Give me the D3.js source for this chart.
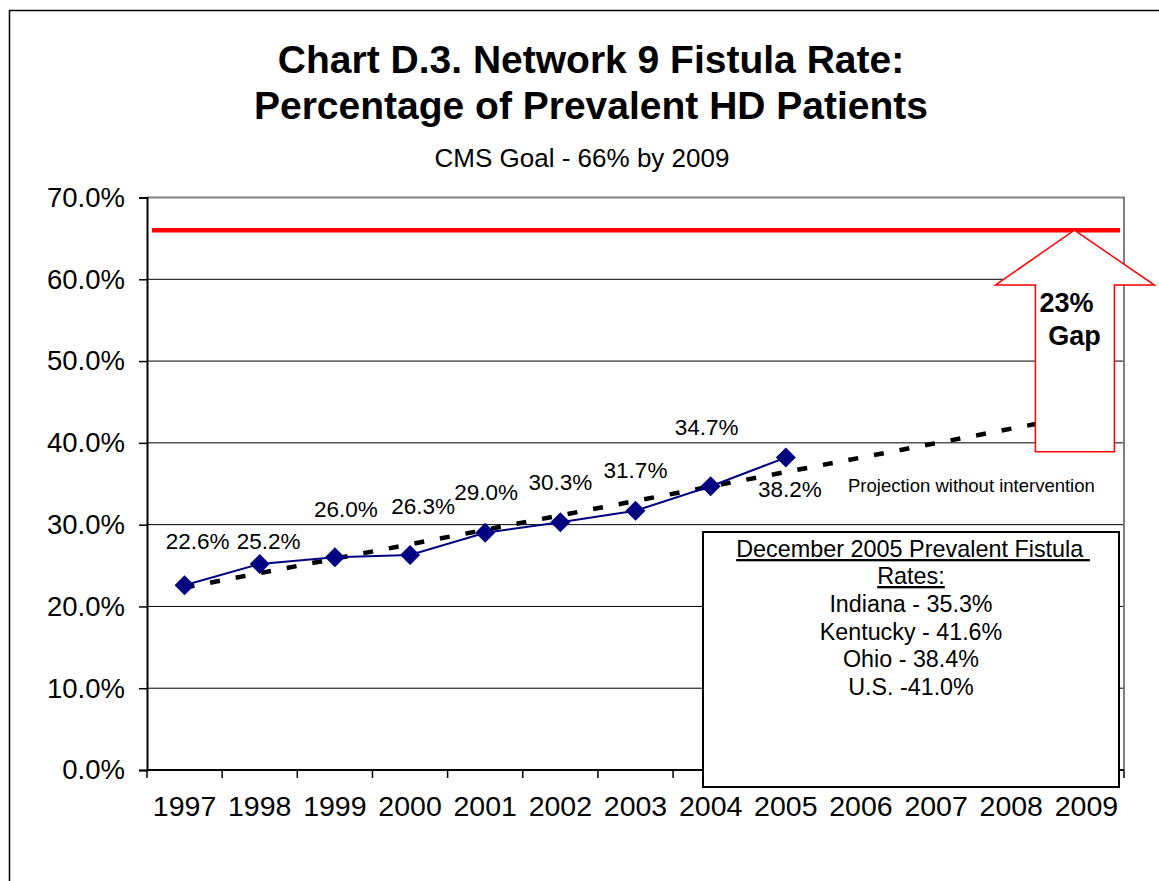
<!DOCTYPE html>
<html>
<head>
<meta charset="utf-8">
<script src="https://cdn.jsdelivr.net/npm/d3@7"></script>
<style>
  body { margin: 0; background: #fff; }
  svg { display: block; font-family: "Liberation Sans", Arial, sans-serif; }
</style>
</head>
<body>
<div id="chart"></div>
<script>
// chart values
var years = ["1997", "1998", "1999", "2000", "2001", "2002", "2003", "2004", "2005", "2006", "2007", "2008", "2009"];
var rateYears = ["1997", "1998", "1999", "2000", "2001", "2002", "2003", "2004", "2005"];
var rates = [22.6, 25.2, 26.0, 26.3, 29.0, 30.3, 31.7, 34.7, 38.2];
var trendYears = ["1997", "2009"];
var trendValues = [22.3, 43.5];
var goalValue = 66;
var yTicks = [0, 10, 20, 30, 40, 50, 60, 70];
var stateLines = ["Indiana - 35.3%", "Kentucky - 41.6%", "Ohio - 38.4%", "U.S. -41.0%"];

// label nudges (Excel labels were dragged by hand)
var labelNudge = [[13, -36], [9, -15], [11, -40], [13, -41], [1, -33], [0, -32], [0, -33], [-4, -51], [4, 39]];

var width = 1159, height = 881;
var margin = {top: 197.5, right: 35, bottom: 111, left: 147};

var svg = d3.select("#chart").append("svg")
    .attr("width", width)
    .attr("height", height);

// outer frame, runs off the page at right and bottom
svg.append("rect")
    .attr("x", 9.5).attr("y", 10.5)
    .attr("width", 1200).attr("height", 900)
    .attr("fill", "#fff")
    .attr("stroke", "#000")
    .attr("stroke-width", 1.5);

var x = d3.scaleBand()
    .domain(years)
    .range([margin.left, width - margin.right]);

var y = d3.scaleLinear()
    .domain([0, 70])
    .range([height - margin.bottom, margin.top]);

function cx(d) { return x(d) + x.bandwidth() / 2; }

// titles
svg.append("text")
    .attr("x", 591).attr("y", 73)
    .attr("text-anchor", "middle")
    .attr("font-size", 39).attr("font-weight", "bold")
    .text("Chart D.3. Network 9 Fistula Rate:");
svg.append("text")
    .attr("x", 591).attr("y", 119)
    .attr("text-anchor", "middle")
    .attr("font-size", 39).attr("font-weight", "bold")
    .text("Percentage of Prevalent HD Patients");
svg.append("text")
    .attr("x", 582).attr("y", 167)
    .attr("text-anchor", "middle")
    .attr("font-size", 26)
    .text("CMS Goal - 66% by 2009");

// gridlines
svg.append("g")
    .selectAll("line")
    .data(yTicks.filter(function (d) { return d > 0 && d < 70; }))
    .enter().append("line")
    .attr("x1", margin.left).attr("x2", width - margin.right)
    .attr("y1", function (d) { return y(d); })
    .attr("y2", function (d) { return y(d); })
    .attr("stroke", "#000")
    .attr("stroke-width", 1);

// plot border top/right in gray
svg.append("path")
    .attr("d", "M" + margin.left + "," + y(70) + "H" + (width - margin.right) + "V" + y(0))
    .attr("fill", "none")
    .attr("stroke", "#808080")
    .attr("stroke-width", 2);

// y axis
var yAxis = d3.axisLeft(y)
    .tickValues(yTicks)
    .tickSize(8)
    .tickPadding(14)
    .tickFormat(function (d) { return d.toFixed(1) + "%"; });

var gy = svg.append("g")
    .attr("transform", "translate(" + margin.left + ",0)")
    .call(yAxis);
gy.select(".domain").attr("stroke", "#000").attr("stroke-width", 2);
gy.selectAll(".tick line").attr("stroke", "#000").attr("stroke-width", 1.5);
gy.selectAll(".tick text")
    .attr("font-family", "Liberation Sans, Arial, sans-serif")
    .attr("font-size", 27.5)
    .attr("fill", "#000");

// x axis with ticks between categories
var gx = svg.append("g")
    .attr("transform", "translate(0," + y(0) + ")");
gx.append("line")
    .attr("x1", margin.left).attr("x2", width - margin.right)
    .attr("stroke", "#000").attr("stroke-width", 2);
gx.selectAll(".sep")
    .data(years.concat(["end"]))
    .enter().append("line")
    .attr("class", "sep")
    .attr("x1", function (d, i) { return i < years.length ? x(d) : x.range()[1]; })
    .attr("x2", function (d, i) { return i < years.length ? x(d) : x.range()[1]; })
    .attr("y1", 0).attr("y2", 8)
    .attr("stroke", "#000").attr("stroke-width", 1.5);
gx.selectAll(".lab")
    .data(years)
    .enter().append("text")
    .attr("class", "lab")
    .attr("x", cx)
    .attr("y", 46)
    .attr("text-anchor", "middle")
    .attr("font-size", 28.5)
    .text(function (d) { return d; });

// goal line
svg.append("line")
    .attr("x1", x.range()[0] + 5).attr("x2", x.range()[1] - 4)
    .attr("y1", y(goalValue)).attr("y2", y(goalValue))
    .attr("stroke", "#ff0000")
    .attr("stroke-width", 4.5);

// projection (dashed)
var trend = trendYears.map(function (d, i) { return {year: d, value: trendValues[i]}; });
svg.append("path")
    .datum(trend)
    .attr("fill", "none")
    .attr("stroke", "#000")
    .attr("stroke-width", 4.5)
    .attr("stroke-dasharray", "10,16")
    .attr("d", d3.line()
        .x(function (d) { return cx(d.year); })
        .y(function (d) { return y(d.value); }));

// gap arrow
var ax = cx("2009") - 12;
var tipY = y(goalValue);
var headY = y(59.3);
var baseY = y(38.9);
svg.append("path")
    .attr("d", "M" + ax + "," + tipY +
        "L" + (ax + 80) + "," + headY +
        "L" + (ax + 40) + "," + headY +
        "L" + (ax + 40) + "," + baseY +
        "L" + (ax - 39) + "," + baseY +
        "L" + (ax - 39) + "," + headY +
        "L" + (ax - 79) + "," + headY + "Z")
    .attr("fill", "#fff")
    .attr("stroke", "#ff0000")
    .attr("stroke-width", 1.5);
svg.append("text")
    .attr("x", ax - 8).attr("y", 312)
    .attr("text-anchor", "middle")
    .attr("font-size", 27).attr("font-weight", "bold")
    .text("23%");
svg.append("text")
    .attr("x", ax).attr("y", 345)
    .attr("text-anchor", "middle")
    .attr("font-size", 27).attr("font-weight", "bold")
    .text("Gap");

svg.append("text")
    .attr("x", 848).attr("y", 492)
    .attr("font-size", 18.5)
    .text("Projection without intervention");

// actual series
var series = rateYears.map(function (d, i) { return {year: d, value: rates[i]}; });
svg.append("path")
    .datum(series)
    .attr("fill", "none")
    .attr("stroke", "#000080")
    .attr("stroke-width", 2)
    .attr("d", d3.line()
        .x(function (d) { return cx(d.year); })
        .y(function (d) { return y(d.value); }));

svg.selectAll(".pt")
    .data(series)
    .enter().append("path")
    .attr("class", "pt")
    .attr("transform", function (d) { return "translate(" + cx(d.year) + "," + y(d.value) + ")"; })
    .attr("d", "M0,-10L10,0L0,10L-10,0Z")
    .attr("fill", "#000080");

svg.selectAll(".val")
    .data(series)
    .enter().append("text")
    .attr("class", "val")
    .attr("x", function (d, i) { return cx(d.year) + labelNudge[i][0]; })
    .attr("y", function (d, i) { return y(d.value) + labelNudge[i][1]; })
    .attr("text-anchor", "middle")
    .attr("font-size", 22.5)
    .text(function (d) { return d.value.toFixed(1) + "%"; });

// state rate box
var box = svg.append("g");
box.append("rect")
    .attr("x", 703).attr("y", 532)
    .attr("width", 416).attr("height", 255)
    .attr("fill", "#fff")
    .attr("stroke", "#000")
    .attr("stroke-width", 2);
box.append("text")
    .attr("x", 913).attr("y", 557)
    .attr("text-anchor", "middle")
    .attr("font-size", 23.4)
    .attr("text-decoration", "underline")
    .attr("xml:space", "preserve")
    .text("December 2005 Prevalent Fistula ");
box.append("text")
    .attr("x", 911).attr("y", 584)
    .attr("text-anchor", "middle")
    .attr("font-size", 23.4)
    .attr("text-decoration", "underline")
    .text("Rates:");
box.selectAll(".st")
    .data(stateLines)
    .enter().append("text")
    .attr("class", "st")
    .attr("x", 911)
    .attr("y", function (d, i) { return 612 + i * 27.7; })
    .attr("text-anchor", "middle")
    .attr("font-size", 23.3)
    .text(function (d) { return d; });
</script>
</body>
</html>
